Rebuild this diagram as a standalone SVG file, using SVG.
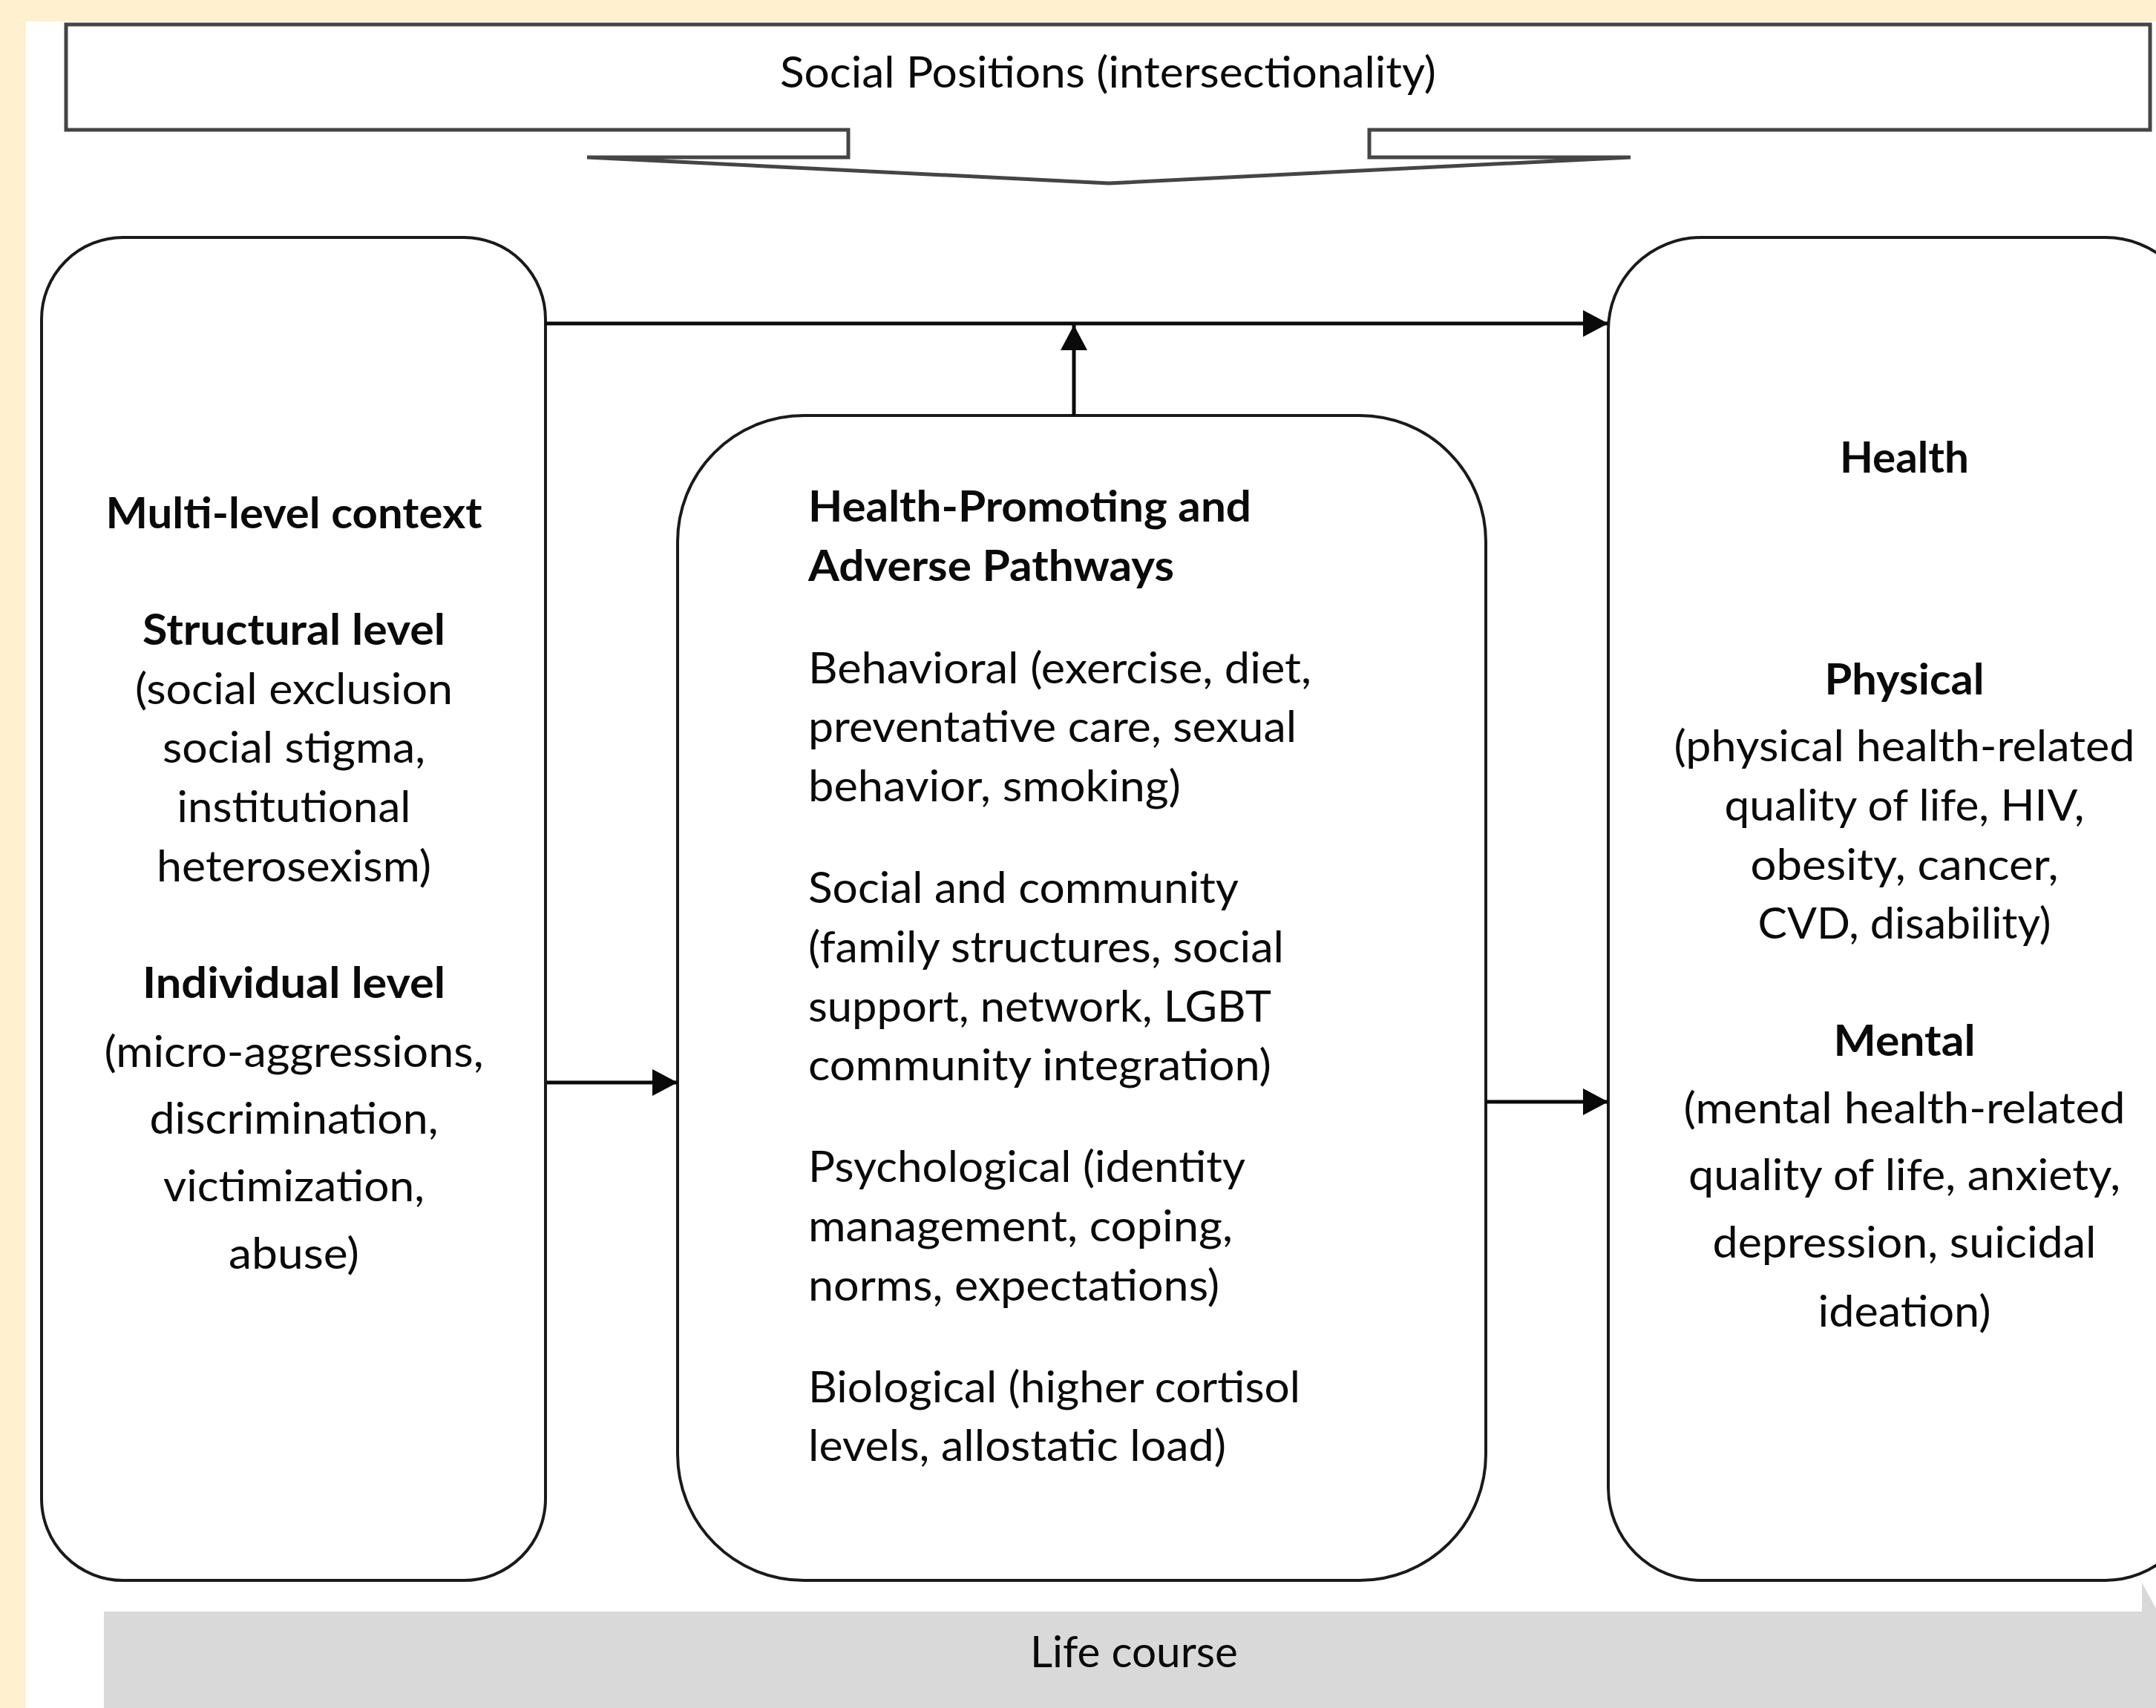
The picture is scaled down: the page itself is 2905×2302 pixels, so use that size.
<svg xmlns="http://www.w3.org/2000/svg" width="2905" height="2302" viewBox="0 0 2905 2302">
  <style>
    .t { font-family: Lato, "Open Sans", "Liberation Sans", sans-serif; font-size: 58px; fill: #0a0a0a; }
    .b { font-weight: bold; }
    .box { fill: #ffffff; stroke: #1a1a1a; stroke-width: 4; }
    .callout { fill: #ffffff; stroke: #454545; stroke-width: 5; stroke-linejoin: miter; }
    .conn { fill: none; stroke: #0a0a0a; stroke-width: 5; }
  </style>
  <defs>
    <marker id="arrow" markerUnits="userSpaceOnUse" markerWidth="36" markerHeight="36" refX="34" refY="18" orient="auto">
      <path d="M0,0 L34,18 L0,36 Z" fill="#0a0a0a"/>
    </marker>
  </defs>

  <!-- page -->
  <rect x="0" y="0" width="2905" height="2302" fill="#fff1cf"/>
  <rect x="35" y="29" width="2870" height="2273" fill="#ffffff"/>

  <!-- banner with downward callout -->
  <g id="social-positions">
    <path class="callout" d="M89,33 H2897 V175 H1845 V212 H2197 L1494,247 L791,212 H1143 V175 H89 Z"/>
    <text class="t" x="1051" y="118" textLength="884" lengthAdjust="spacingAndGlyphs">Social Positions (intersectionality)</text>
  </g>

  <!-- left column -->
  <g id="multi-level-context">
    <rect class="box" x="56" y="320" width="679" height="1810" rx="110" ry="110"/>
    <text class="t b" x="142.5" y="712" textLength="507" lengthAdjust="spacingAndGlyphs">Multi-level context</text>
    <text class="t b" x="192" y="869" textLength="408" lengthAdjust="spacingAndGlyphs">Structural level</text>
    <text class="t" x="182" y="949" textLength="428" lengthAdjust="spacingAndGlyphs">(social exclusion</text>
    <text class="t" x="219" y="1028" textLength="354" lengthAdjust="spacingAndGlyphs">social stigma,</text>
    <text class="t" x="238.5" y="1108" textLength="315" lengthAdjust="spacingAndGlyphs">institutional</text>
    <text class="t" x="211" y="1188" textLength="370" lengthAdjust="spacingAndGlyphs">heterosexism)</text>
    <text class="t b" x="192" y="1345" textLength="408" lengthAdjust="spacingAndGlyphs">Individual level</text>
    <text class="t" x="140.5" y="1438" textLength="511" lengthAdjust="spacingAndGlyphs">(micro-aggressions,</text>
    <text class="t" x="201.5" y="1528" textLength="389" lengthAdjust="spacingAndGlyphs">discrimination,</text>
    <text class="t" x="220" y="1619" textLength="352" lengthAdjust="spacingAndGlyphs">victimization,</text>
    <text class="t" x="308" y="1710" textLength="176" lengthAdjust="spacingAndGlyphs">abuse)</text>
  </g>

  <!-- middle column -->
  <g id="pathways">
    <rect class="box" x="913" y="560" width="1089" height="1570" rx="170" ry="170"/>
    <text class="t b" x="1089" y="703" textLength="597" lengthAdjust="spacingAndGlyphs">Health-Promoting and</text>
    <text class="t b" x="1089" y="783" textLength="493" lengthAdjust="spacingAndGlyphs">Adverse Pathways</text>
    <text class="t" x="1089" y="921" textLength="678" lengthAdjust="spacingAndGlyphs">Behavioral (exercise, diet,</text>
    <text class="t" x="1089" y="1000" textLength="658" lengthAdjust="spacingAndGlyphs">preventative care, sexual</text>
    <text class="t" x="1089" y="1080" textLength="502" lengthAdjust="spacingAndGlyphs">behavior, smoking)</text>
    <text class="t" x="1089" y="1217" textLength="580" lengthAdjust="spacingAndGlyphs">Social and community</text>
    <text class="t" x="1089" y="1297" textLength="641" lengthAdjust="spacingAndGlyphs">(family structures, social</text>
    <text class="t" x="1089" y="1377" textLength="624" lengthAdjust="spacingAndGlyphs">support, network, LGBT</text>
    <text class="t" x="1089" y="1456" textLength="624" lengthAdjust="spacingAndGlyphs">community integration)</text>
    <text class="t" x="1089" y="1593" textLength="589" lengthAdjust="spacingAndGlyphs">Psychological (identity</text>
    <text class="t" x="1089" y="1673" textLength="572" lengthAdjust="spacingAndGlyphs">management, coping,</text>
    <text class="t" x="1089" y="1753" textLength="554" lengthAdjust="spacingAndGlyphs">norms, expectations)</text>
    <text class="t" x="1089" y="1890" textLength="663" lengthAdjust="spacingAndGlyphs">Biological (higher cortisol</text>
    <text class="t" x="1089" y="1969" textLength="563" lengthAdjust="spacingAndGlyphs">levels, allostatic load)</text>
  </g>

  <!-- right column (runs past the page edge) -->
  <g id="health">
    <rect class="box" x="2167" y="320" width="795" height="1810" rx="125" ry="125"/>
    <text class="t b" x="2479" y="637" textLength="174" lengthAdjust="spacingAndGlyphs">Health</text>
    <text class="t b" x="2458.5" y="936" textLength="215" lengthAdjust="spacingAndGlyphs">Physical</text>
    <text class="t" x="2255.5" y="1026" textLength="621" lengthAdjust="spacingAndGlyphs">(physical health-related</text>
    <text class="t" x="2323.5" y="1106" textLength="485" lengthAdjust="spacingAndGlyphs">quality of life, HIV,</text>
    <text class="t" x="2358.5" y="1186" textLength="415" lengthAdjust="spacingAndGlyphs">obesity, cancer,</text>
    <text class="t" x="2368.5" y="1265" textLength="395" lengthAdjust="spacingAndGlyphs">CVD, disability)</text>
    <text class="t b" x="2470.5" y="1423" textLength="191" lengthAdjust="spacingAndGlyphs">Mental</text>
    <text class="t" x="2268.5" y="1514" textLength="595" lengthAdjust="spacingAndGlyphs">(mental health-related</text>
    <text class="t" x="2275" y="1604" textLength="582" lengthAdjust="spacingAndGlyphs">quality of life, anxiety,</text>
    <text class="t" x="2307.5" y="1695" textLength="517" lengthAdjust="spacingAndGlyphs">depression, suicidal</text>
    <text class="t" x="2449.5" y="1788" textLength="233" lengthAdjust="spacingAndGlyphs">ideation)</text>
  </g>

  <!-- life course band -->
  <g id="life-course">
    <polygon points="140,2172 2886,2172 2886,2133 2950,2250 2886,2367 140,2367" fill="#d9d9d9"/>
    <text class="t" x="1388" y="2247" textLength="280" lengthAdjust="spacingAndGlyphs">Life course</text>
  </g>

  <g id="connectors">
    <line class="conn" x1="735" y1="436" x2="2167" y2="436" marker-end="url(#arrow)"/>
    <line class="conn" x1="1447" y1="560" x2="1447" y2="438" marker-end="url(#arrow)"/>
    <line class="conn" x1="737" y1="1459" x2="913" y2="1459" marker-end="url(#arrow)"/>
    <line class="conn" x1="2002" y1="1485" x2="2167" y2="1485" marker-end="url(#arrow)"/>
  </g>
</svg>
